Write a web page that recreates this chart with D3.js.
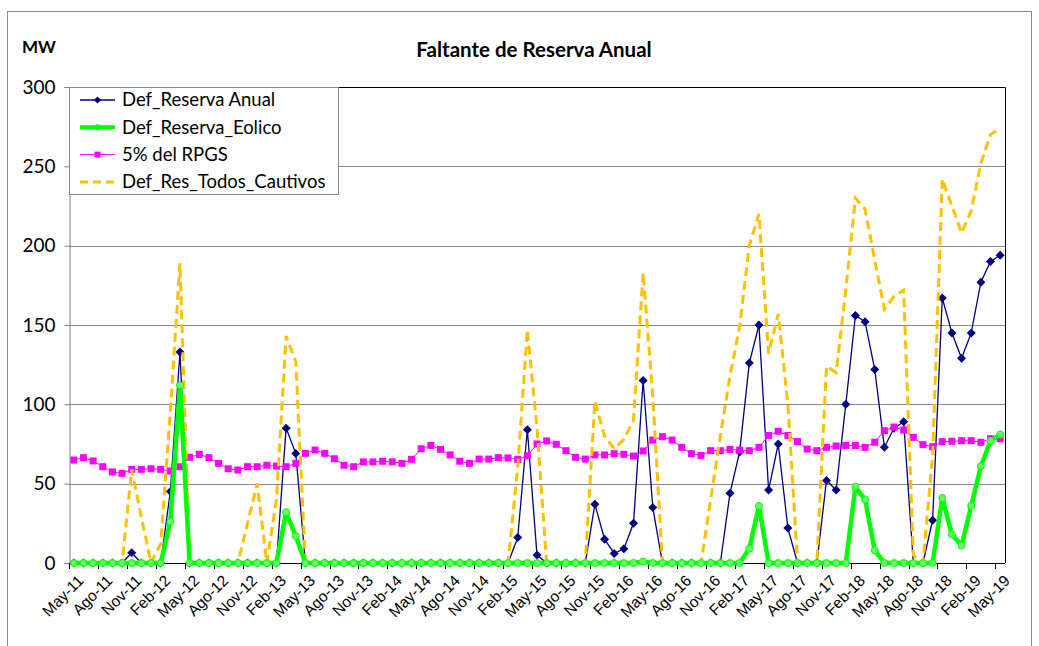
<!DOCTYPE html>
<html lang="es">
<head>
<meta charset="utf-8">
<title>Faltante de Reserva Anual</title>
<script src="https://cdn.jsdelivr.net/npm/d3@7"></script>
<style>
  body { margin: 0; background: #fff; }
  svg { display: block; }
  .ylab { font: 19px Lato, "Open Sans", sans-serif; fill: #000; }
  .xlab { font: 15.5px "Liberation Sans", Arial, sans-serif; fill: #000; }
  .legend text { font: 18.5px Lato, "Open Sans", sans-serif; fill: #000; }
</style>
</head>
<body>
<svg width="1039" height="646"></svg>
<script>
// month names (spanish) for the category axis, May-11 .. May-19
var monthNames = ["Ene","Feb","Mar","Abr","May","Jun","Jul","Ago","Sep","Oct","Nov","Dic"];
var months = [];
for (var k = 0; k < 97; k++) {
  var m = (4 + k) % 12, yr = 11 + Math.floor((4 + k) / 12);
  months.push(monthNames[m] + "-" + yr);
}
var yTicks = [0, 50, 100, 150, 200, 250, 300];

var defAnual = [0,0,0,0,0,0,6.5,0,0,0,45,133,0,0,0,0,0,0,0,0,
  0,0,85,69,0,0,0,0,0,0,0,0,0,0,0,0,0,0,0,0,
  0,0,0,0,0,0,16,84,5,0,0,0,0,0,37,15,6,9,25,115,
  35,0,0,0,0,0,0,0,44,70,126,150,46,75,22,0,0,0,52,46,
  100,156,152,122,73,85,89,0,0,27,167,145,129,145,177,190,194];

var defEolico = [0,0,0,0,0,0,0,0,0,0,26,112,0,0,0,0,0,0,0,0,
  0,0,32,17,0,0,0,0,0,0,0,0,0,0,0,0,0,0,0,0,
  0,0,0,0,0,0,0,0,0,0,0,0,0,0,0,0,0,0,0,1,
  0,0,0,0,0,0,0,0,0,0,9,36,0,0,0,0,0,0,0,0,
  0,48,40,8,0,0,0,0,0,0,41,18,11,36,61,77,81];

var rpgs5 = [64.9,66.4,64.3,60.7,57.4,56.5,59.0,59.0,59.4,59.0,58.0,60.7,66.6,68.5,66.4,62.8,59.4,58.6,60.7,60.7,
  61.6,61.1,60.7,62.8,69.1,71.2,69.1,65.7,61.6,60.7,63.7,63.7,64.1,63.7,62.8,65.3,72.0,74.1,71.6,68.1,
  64.1,62.8,65.5,65.5,66.4,66.2,65.3,67.6,75.0,76.9,74.8,70.8,66.6,65.5,68.1,68.1,68.9,68.5,67.4,70.6,
  77.5,79.6,77.5,72.9,68.9,67.8,70.8,70.8,71.6,71.2,70.8,72.9,80.4,83.0,80.4,76.5,71.8,70.8,72.9,73.7,
  74.1,74.0,72.9,76.1,83.4,85.7,83.8,79.2,74.6,73.3,76.5,76.7,77.1,77.1,76.1,78.3,78.3];

var resCautivos = [0,0,0,0,0,0,59,29,0,12,95,189,0,0,0,0,0,0,25,50,
  0,40,143,127,0,0,0,0,0,0,0,0,0,0,0,0,0,0,0,0,
  0,0,0,0,0,0,60,147,85,0,0,0,0,0,102,80,72,78,90,183,
  105,0,0,0,0,0,40,80,118,149,200,220,132,157,100,0,0,0,124,120,
  172,230,223,191,160,168,172,5,0,68,242,225,208,222,252,270,274];

var colAnual = "#000080", colEolico = "#00ff00", colRpgs = "#ff00ff", colCaut = "#ffc000";

var svg = d3.select("svg");

var x = d3.scaleBand().domain(months).range([69, 1005]).paddingInner(0).paddingOuter(0);
var y = d3.scaleLinear().domain([0, 300]).range([563, 87]);
function cx(i) { return x(months[i]) + x.bandwidth() / 2; }

// outer chart frame
svg.append("rect").attr("x", 7.5).attr("y", 11.5).attr("width", 1024).attr("height", 660)
  .attr("fill", "none").attr("stroke", "#8c8c8c");

// title + unit
svg.append("text").attr("x", 534).attr("y", 57).attr("text-anchor", "middle")
  .style("font", "bold 20.5px Lato, 'Open Sans', sans-serif").text("Faltante de Reserva Anual");
svg.append("text").attr("x", 22).attr("y", 53)
  .style("font", "bold 17px Lato, 'Open Sans', sans-serif").text("MW");

// gridlines
svg.append("g").selectAll("line").data(yTicks.slice(1)).join("line")
  .attr("x1", 69).attr("x2", 1005)
  .attr("y1", function(d) { return Math.round(y(d)) + 0.5; })
  .attr("y2", function(d) { return Math.round(y(d)) + 0.5; })
  .attr("stroke", "#8a8a8a").attr("stroke-width", 1);

// y axis
var yAxis = svg.append("g").attr("transform", "translate(69.5,0)")
  .call(d3.axisLeft(y).tickValues(yTicks).tickSize(5).tickPadding(9));
yAxis.select(".domain").attr("stroke", "#808080");
yAxis.selectAll(".tick line").attr("stroke", "#808080");
yAxis.selectAll("text").attr("class", "ylab").attr("fill", null).style("font", null);

// x axis (ticks every 3 months at category boundaries)
var tickIdx = d3.range(0, 97, 3);
var xg = svg.append("g");
xg.append("line").attr("x1", 69).attr("x2", 1005).attr("y1", 563.5).attr("y2", 563.5)
  .attr("stroke", "#000");
xg.selectAll(".xt").data(tickIdx).join("line")
  .attr("x1", function(i) { return Math.round(x(months[i])) + 0.5; })
  .attr("x2", function(i) { return Math.round(x(months[i])) + 0.5; })
  .attr("y1", 563).attr("y2", 569).attr("stroke", "#000");
xg.selectAll(".xl").data(tickIdx).join("text")
  .attr("class", "xlab")
  .attr("text-anchor", "end")
  .attr("transform", function(i) { return "translate(" + (cx(i) + 3) + ",574) rotate(-45)"; })
  .attr("dy", "0.7em")
  .text(function(i) { return months[i]; });

// plot area border (top/right black)
svg.append("path").attr("d", "M69,87.5H1005.5V563").attr("fill", "none").attr("stroke", "#000");

var line = function(vals) {
  return d3.line().x(function(d, i) { return cx(i); }).y(function(d) { return y(d); })(vals);
};
var diamond = "M0,-4.5L4.5,0L0,4.5L-4.5,0Z";

// Def_Reserva Anual
svg.append("path").attr("d", line(defAnual)).attr("fill", "none")
  .attr("stroke", colAnual).attr("stroke-width", 1.3);
svg.append("g").selectAll("path").data(defAnual).join("path")
  .attr("d", diamond)
  .attr("transform", function(d, i) { return "translate(" + cx(i) + "," + y(d) + ")"; })
  .attr("fill", colAnual);

// 5% del RPGS
svg.append("path").attr("d", line(rpgs5)).attr("fill", "none")
  .attr("stroke", colRpgs).attr("stroke-width", 1);
svg.append("g").selectAll("rect").data(rpgs5).join("rect")
  .attr("x", function(d, i) { return cx(i) - 3.5; })
  .attr("y", function(d) { return y(d) - 3.5; })
  .attr("width", 7).attr("height", 7).attr("fill", colRpgs);

// Def_Res_Todos_Cautivos
svg.append("path").attr("d", line(resCautivos)).attr("fill", "none")
  .attr("stroke", colCaut).attr("stroke-width", 3).attr("stroke-dasharray", "9,5");

// Def_Reserva_Eolico
svg.append("path").attr("d", line(defEolico)).attr("fill", "none")
  .attr("stroke", colEolico).attr("stroke-width", 4.5).attr("stroke-linejoin", "round");
svg.append("g").selectAll("circle").data(defEolico).join("circle")
  .attr("cx", function(d, i) { return cx(i); })
  .attr("cy", function(d) { return y(d); })
  .attr("r", 3.5).attr("fill", "#66ff66").attr("stroke", colEolico);

// legend
var lg = svg.append("g").attr("class", "legend");
lg.append("rect").attr("x", 69.5).attr("y", 87.5).attr("width", 269).attr("height", 107)
  .attr("fill", "#fff").attr("stroke", "#7b8aa0");
var items = [
  {name: "Def_Reserva Anual", color: colAnual},
  {name: "Def_Reserva_Eolico", color: colEolico},
  {name: "5% del RPGS", color: colRpgs},
  {name: "Def_Res_Todos_Cautivos", color: colCaut}
];
items.forEach(function(it, k) {
  var yy = 100 + k * 27.3;
  var ln = lg.append("line").attr("x1", 80).attr("x2", 115).attr("y1", yy).attr("y2", yy)
    .attr("stroke", it.color);
  if (k == 0) {
    ln.attr("stroke-width", 1.3);
    lg.append("path").attr("d", diamond).attr("transform", "translate(97.5," + yy + ") scale(0.8)").attr("fill", it.color);
  } else if (k == 1) {
    ln.attr("stroke-width", 4);
    lg.append("circle").attr("cx", 97.5).attr("cy", yy).attr("r", 3).attr("fill", it.color);
  } else if (k == 2) {
    ln.attr("stroke-width", 1);
    lg.append("rect").attr("x", 94.5).attr("y", yy - 3).attr("width", 6).attr("height", 6).attr("fill", it.color);
  } else {
    ln.attr("stroke-width", 3).attr("stroke-dasharray", "8,5");
  }
  lg.append("text").attr("x", 122).attr("y", yy).attr("dy", "0.35em").text(it.name);
});
</script>
</body>
</html>
